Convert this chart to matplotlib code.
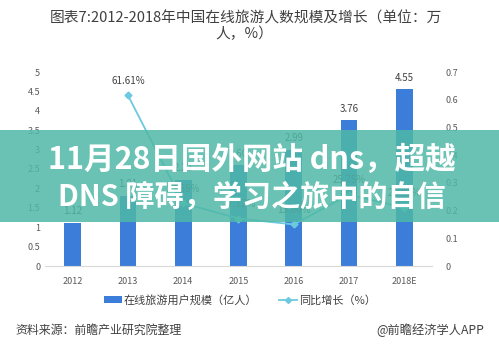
import matplotlib
matplotlib.use("Agg")
import matplotlib.pyplot as plt
from matplotlib.patches import Rectangle
from matplotlib.lines import Line2D
from matplotlib.patches import Patch

plt.rcParams['font.family'] = ['Noto Sans CJK SC', 'DejaVu Sans']

years = ["2012", "2013", "2014", "2015", "2016", "2017", "2018E"]
users = [1.12, 1.81, 2.22, 2.60, 2.99, 3.76, 4.55]
growth_years = ["2013", "2014", "2015", "2016", "2017", "2018E"]
growth = [0.6161, 0.2265, 0.1712, 0.1500, 0.2575, 0.2101]
growth_labels = ["61.61%", "22.65%", "17.12%", "15.00%", "25.75%", "21.01%"]

W, H = 499, 358
BAR_C = "#3b7dd8"
LINE_C = "#6cc9df"
TXT_C = "#595959"

fig = plt.figure(figsize=(W / 100, H / 100), dpi=100)
fig.patch.set_facecolor("white")

# main axes: y=0 at px 266, y=5 at px 72; x from 45 to 432
ax = fig.add_axes([45 / W, (H - 266) / H, (432 - 45) / W, (266 - 72) / H])
x = list(range(len(years)))
ax.bar(x, users, width=0.3, color=BAR_C, zorder=2)
for xi, v in zip(x, users):
    ax.text(xi, v + 0.17, f"{v:.2f}", ha="center", va="bottom", fontsize=7, color="#404040")
ax.set_xlim(-0.5, len(years) - 0.5)
ax.set_ylim(0, 5)
ax.set_yticks([0, 0.5, 1, 1.5, 2, 2.5, 3, 3.5, 4, 4.5, 5])
ax.set_yticklabels(["0", "0.5", "1", "1.5", "2", "2.5", "3", "3.5", "4", "4.5", "5"])
ax.set_xticks(x)
ax.set_xticklabels(years)
ax.tick_params(axis="both", length=0, labelsize=6.5, colors=TXT_C)
ax.tick_params(axis="x", pad=8)
for s in ("top", "right", "left"):
    ax.spines[s].set_visible(False)
ax.spines["bottom"].set_color("#d9d9d9")

# growth line on right axis
ax2 = ax.twinx()
gx = [years.index(y) for y in growth_years]
ax2.plot(gx, growth, color=LINE_C, linewidth=1.3, marker="D", markersize=3.5,
         markerfacecolor=LINE_C, markeredgecolor=LINE_C, zorder=3)
for xi, v, lab in zip(gx, growth, growth_labels):
    ax2.text(xi, v + 0.035, lab, ha="center", va="bottom", fontsize=7, color="#404040")
ax2.set_ylim(0, 0.7)
ax2.set_yticks([0, 0.1, 0.2, 0.3, 0.4, 0.5, 0.6, 0.7])
ax2.set_yticklabels(["0", "0.1", "0.2", "0.3", "0.4", "0.5", "0.6", "0.7"])
ax2.tick_params(axis="y", length=0, labelsize=6.5, colors=TXT_C, pad=10)
for s in ("top", "right", "left", "bottom"):
    ax2.spines[s].set_visible(False)

# title
fig.text(246 / W, 1 - 18 / H, "图表7:2012-2018年中国在线旅游人数规模及增长（单位：万",
         ha="center", va="center", fontsize=10.6, color="#404040")
fig.text(244 / W, 1 - 34 / H, "人，%）", ha="center", va="center", fontsize=10.6, color="#404040")

# legend
handles = [Patch(facecolor=BAR_C, edgecolor="none"),
           Line2D([0], [0], color=LINE_C, marker="D", markersize=3, linewidth=1.3)]
fig.legend(handles, ["在线旅游用户规模（亿人）", "同比增长（%）"],
           loc="center", bbox_to_anchor=(240 / W, 1 - 300 / H), ncol=2, frameon=False,
           fontsize=8, handlelength=1.6, handleheight=0.5, columnspacing=2.0,
           handletextpad=0.15, labelcolor="#404040")

# footer
fig.text(15 / W, 1 - 330 / H, "资料来源：前瞻产业研究院整理", ha="left", va="center",
         fontsize=8.6, color="#404040", style="italic")
fig.text(484 / W, 1 - 330 / H, "@前瞻经济学人APP", ha="right", va="center",
         fontsize=8.8, color="#404040")

# teal banner overlay
fig.patches.append(Rectangle((0, (H - 222) / H), 1, (222 - 130) / H, transform=fig.transFigure,
                             facecolor="#4fb8a6", alpha=0.85, edgecolor="none", zorder=10))
fig.text(252 / W, 1 - 160 / H, "11月28日国外网站 dns，超越", ha="center", va="center",
         fontsize=22, fontweight="heavy", color="white", zorder=11)
fig.text(252 / W, 1 - 197 / H, "DNS 障碍，学习之旅中的自信", ha="center", va="center",
         fontsize=21, fontweight="heavy", color="white", zorder=11)

fig.savefig("out.png", dpi=100)
